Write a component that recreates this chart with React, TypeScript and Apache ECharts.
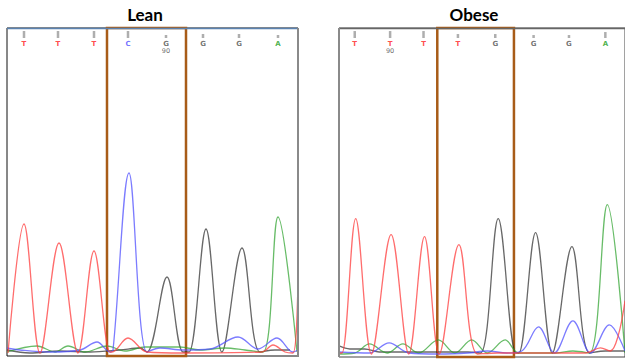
import React, { useEffect, useRef } from "react";
import * as echarts from "echarts";

// x = scan position, y = signal intensity
const leanT: number[][] = [[1,3],[17,132],[33,3],[52,113],[71,3],[87,105],[103,4],[105,4],[121,18],[140,4],[176,3],[255,4],[266,11],[278,4],[286,3],[291,79]];
const leanC: number[][] = [[0,8],[13,6],[43,4],[73,6],[90,14],[103,4],[106,6],[122,183],[140,4],[153,8],[176,6],[203,7],[231,19],[251,7],[270,18],[286,4],[291,6]];
const leanA: number[][] = [[0,4],[30,10],[48,4],[61,10],[78,4],[100,10],[118,5],[138,9],[173,9],[193,6],[218,8],[238,6],[256,4],[271,139],[290,4]];
const leanG: number[][] = [[0,6],[23,3],[53,5],[83,4],[113,6],[133,8],[140,4],[160,79],[176,4],[182,4],[199,127],[215,4],[235,108],[253,4],[268,6],[283,6]];

const obeseT: number[][] = [[0,4],[3,4],[17,138],[33,3],[53,122],[71,3],[87,120],[102,3],[122,112],[141,3],[161,4],[181,4],[251,4],[266,9],[276,6],[284,21],[291,56]];
const obeseC: number[][] = [[0,5],[31,4],[51,14],[71,4],[101,3],[131,4],[151,6],[171,4],[186,6],[203,30],[219,4],[238,36],[256,4],[275,32],[291,6]];
const obeseA: number[][] = [[0,3],[16,4],[31,13],[49,4],[65,13],[81,4],[101,17],[118,4],[135,17],[151,4],[169,17],[183,4],[221,4],[238,6],[255,4],[273,152],[291,4]];
const obeseG: number[][] = [[0,11],[11,8],[26,8],[41,5],[81,5],[116,5],[131,5],[144,4],[162,138],[180,4],[183,4],[200,124],[217,4],[237,110],[255,4],[271,6],[291,6]];

const leanBases = ["T", "T", "T", "C", "G", "G", "G", "A"];
const leanBasePos = [17, 51, 87, 121, 159, 196, 232, 271];
const leanQual = [7, 7, 7, 7, 3, 4, 4, 3];
const leanNumbered = [4]; // base index labelled "90"

const obeseBases = ["T", "T", "T", "T", "G", "G", "G", "A"];
const obeseBasePos = [16, 52, 86, 121, 159, 198, 234, 271];
const obeseQual = [7, 7, 7, 4, 4, 3, 3, 6];
const obeseNumbered = [1];

const boxRange = { lean: [100, 179], obese: [100, 178] };
const titles = ["Lean", "Obese"];

const BASE_COLORS: Record<string, string> = {
  T: "#ff2020",
  C: "#5050ff",
  G: "#505050",
  A: "#22a022",
};
const TRACE_COLORS: Record<string, string> = {
  T: "rgba(255,60,60,0.75)",
  C: "rgba(80,80,255,0.75)",
  G: "rgba(40,40,40,0.7)",
  A: "rgba(40,160,40,0.7)",
};

const Y_MAX = 328;
const X_MAX = 291;

function traceSeries(data: number[][], base: string, idx: number, extra: any = {}) {
  return {
    type: "line",
    xAxisIndex: idx,
    yAxisIndex: idx,
    data,
    smooth: 0.35,
    showSymbol: false,
    symbol: "none",
    lineStyle: { color: TRACE_COLORS[base], width: 1.3 },
    z: 3,
    ...extra,
  };
}

function baseSeries(bases: string[], pos: number[], qual: number[], numbered: number[], idx: number) {
  return {
    type: "scatter",
    xAxisIndex: idx,
    yAxisIndex: idx,
    symbol: "rect",
    z: 5,
    data: bases.map((b, i) => ({
      value: [pos[i], 318],
      symbolSize: [2.5, qual[i]],
      symbolOffset: [0, -qual[i] / 2],
      itemStyle: { color: "#9a9a9a" },
      label: {
        show: true,
        position: "bottom",
        distance: 2,
        formatter: numbered.includes(i) ? `{b|${b}}\n{n|90}` : `{b|${b}}`,
        rich: {
          b: { color: BASE_COLORS[b], fontSize: 7, fontWeight: "bold", fontFamily: "DejaVu Sans", lineHeight: 7, textBorderWidth: 0 },
          n: { color: "#444", fontSize: 6.5, fontFamily: "DejaVu Sans", lineHeight: 8, textBorderWidth: 0 },
        },
      },
    })),
  };
}

export default function App() {
  const ref = useRef<HTMLDivElement>(null);
  useEffect(() => {
    if (!ref.current) return;
    const chart = echarts.init(ref.current, undefined, { renderer: "svg" });
    const grids = [
      { left: 7, top: 28, width: X_MAX, height: Y_MAX, show: true, borderColor: "#111", borderWidth: 1, backgroundColor: "#fff" },
      { left: 339, top: 28, width: X_MAX, height: Y_MAX + 1, show: true, borderColor: "#444", borderWidth: 1, backgroundColor: "#fff" },
    ];
    const xAxes = [0, 1].map((i) => ({
      type: "value",
      gridIndex: i,
      min: 0,
      max: X_MAX,
      show: false,
    }));
    const yAxes = [0, 1].map((i) => ({
      type: "value",
      gridIndex: i,
      min: 0,
      max: Y_MAX,
      show: false,
    }));
    const box = (r: number[]) => ({
      silent: true,
      itemStyle: { color: "rgba(0,0,0,0)", borderColor: "#a85c18", borderWidth: 2.5 },
      data: [[{ xAxis: r[0] }, { xAxis: r[1] }]],
    });
    chart.setOption({
      animation: false,
      grid: grids,
      xAxis: xAxes,
      yAxis: yAxes,
      graphic: [
        { type: "text", x: 145, y: 14, style: { text: titles[0], fontSize: 17, fontWeight: "bold", fontFamily: "Lato", fill: "#000", align: "center", verticalAlign: "middle" } },
        { type: "text", x: 474, y: 14, style: { text: titles[1], fontSize: 17, fontWeight: "bold", fontFamily: "Lato", fill: "#000", align: "center", verticalAlign: "middle" } },
        { type: "line", shape: { x1: 7, y1: 28.5, x2: 298, y2: 28.5 }, style: { stroke: "#5b82b0", lineWidth: 1.5 }, z: 10 },
        { type: "line", shape: { x1: 298, y1: 28, x2: 298, y2: 357 }, style: { stroke: "#8a8a8a", lineWidth: 2 }, z: 10 },
        { type: "line", shape: { x1: 339, y1: 28.5, x2: 625, y2: 28.5 }, style: { stroke: "#666", lineWidth: 1.5 }, z: 10 },
        { type: "line", shape: { x1: 339, y1: 28, x2: 339, y2: 357 }, style: { stroke: "#8a8a8a", lineWidth: 2 }, z: 10 },
      ],
      series: [
        traceSeries(leanG, "G", 0),
        traceSeries(leanA, "A", 0),
        traceSeries(leanC, "C", 0),
        traceSeries(leanT, "T", 0, { markArea: box(boxRange.lean) }),
        baseSeries(leanBases, leanBasePos, leanQual, leanNumbered, 0),
        traceSeries(obeseG, "G", 1),
        traceSeries(obeseA, "A", 1),
        traceSeries(obeseC, "C", 1),
        traceSeries(obeseT, "T", 1, { markArea: box(boxRange.obese) }),
        baseSeries(obeseBases, obeseBasePos, obeseQual, obeseNumbered, 1),
      ],
    });
    return () => chart.dispose();
  }, []);
  return <div ref={ref} style={{ width: 625, height: 362, position: "fixed", left: 0, top: 0, background: "#fff" }} />;
}
